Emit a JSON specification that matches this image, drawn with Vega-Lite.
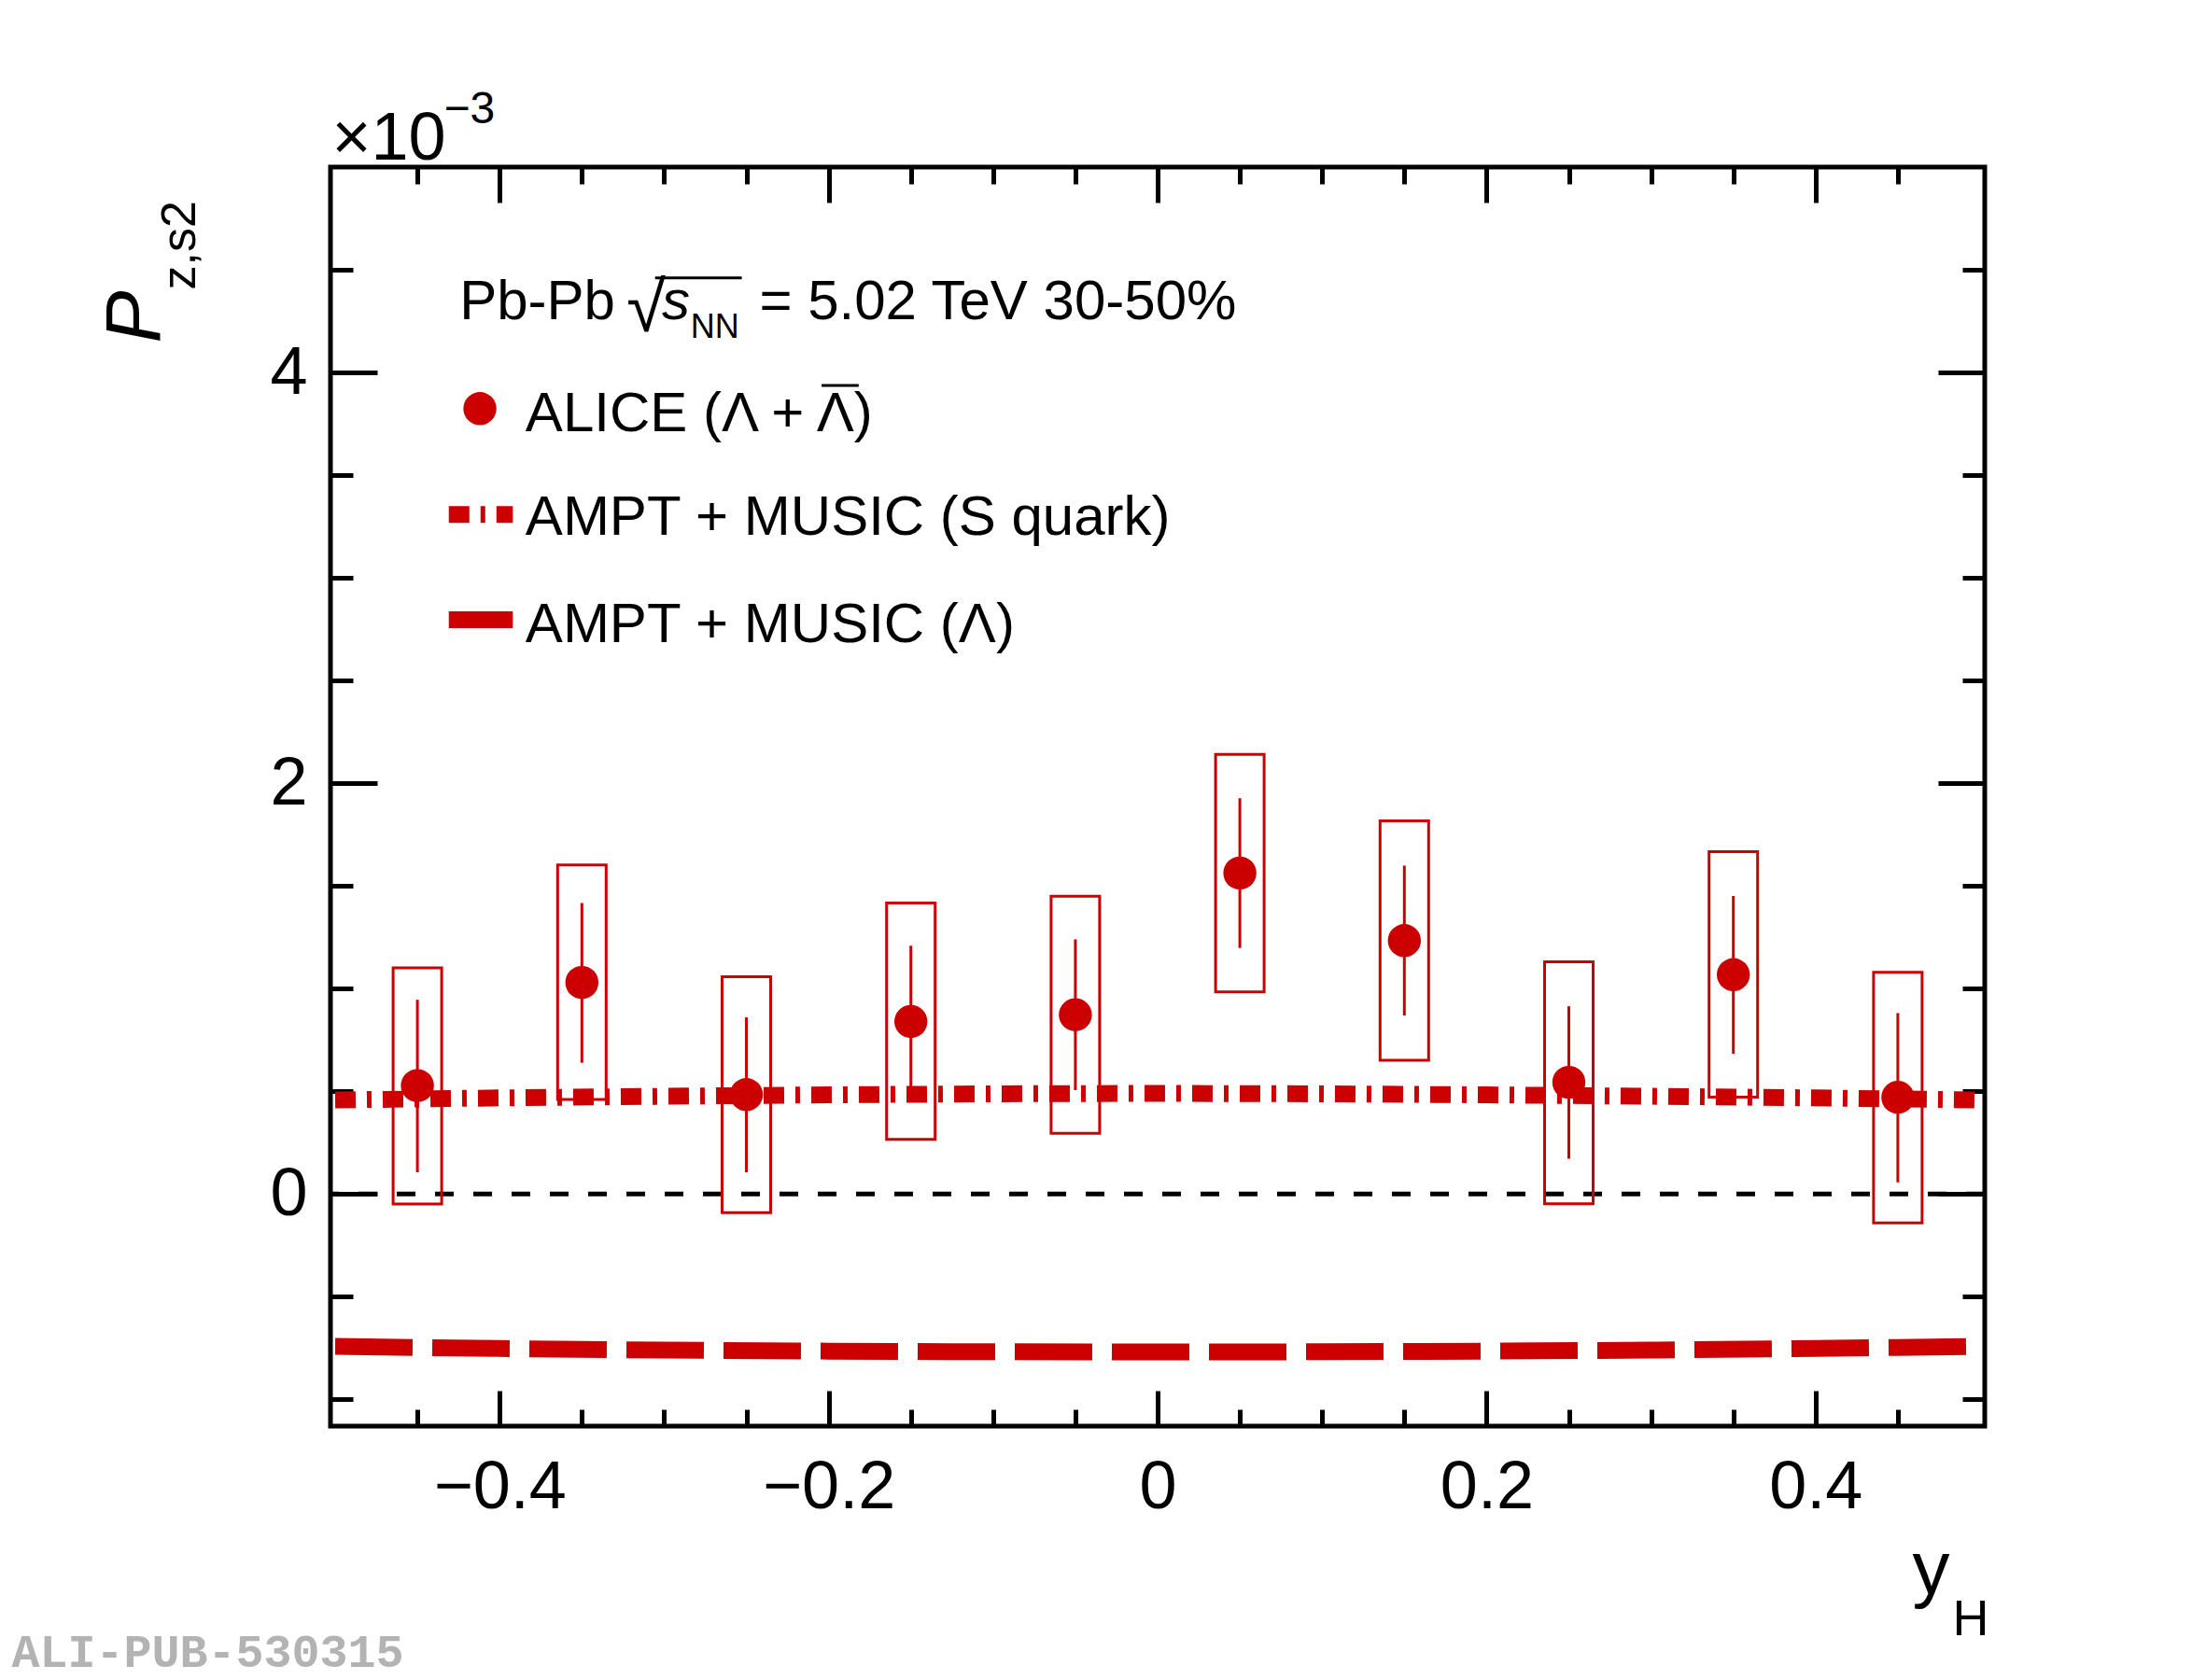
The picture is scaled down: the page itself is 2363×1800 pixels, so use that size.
{
  "$schema": "https://vega.github.io/schema/vega-lite/v6.json",
  "description": "ALICE P_z,s2 vs y_H in Pb-Pb 30-50%, with AMPT+MUSIC curves.",
  "width": 1772,
  "height": 1349,
  "autosize": {"type": "none"},
  "padding": {"left": 354, "top": 179, "right": 237, "bottom": 272},
  "background": "white",
  "config": {
    "view": {"stroke": "black", "strokeWidth": 5},
    "axis": {
      "domain": false, "grid": false, "tickColor": "black", "tickWidth": 5,
      "labelFont": "Liberation Sans", "labelFontSize": 72, "labelColor": "black",
      "titleFont": "Liberation Sans", "titleColor": "black", "titleFontWeight": "normal",
      "titleAlign": "left", "titleBaseline": "alphabetic"
    },
    "text": {"font": "Liberation Sans", "color": "black", "align": "left", "baseline": "alphabetic"}
  },
  "datasets": {
    "alice": [
      {"yH": -0.45, "P": 0.528, "statLo": 0.106, "statHi": 0.946, "sysLo": -0.049, "sysHi": 1.101},
      {"yH": -0.35, "P": 1.030, "statLo": 0.639, "statHi": 1.417, "sysLo": 0.460, "sysHi": 1.602},
      {"yH": -0.25, "P": 0.484, "statLo": 0.106, "statHi": 0.860, "sysLo": -0.091, "sysHi": 1.058},
      {"yH": -0.15, "P": 0.840, "statLo": 0.468, "statHi": 1.209, "sysLo": 0.266, "sysHi": 1.417},
      {"yH": -0.05, "P": 0.873, "statLo": 0.506, "statHi": 1.240, "sysLo": 0.296, "sysHi": 1.450},
      {"yH": 0.05, "P": 1.563, "statLo": 1.198, "statHi": 1.927, "sysLo": 0.984, "sysHi": 2.141},
      {"yH": 0.15, "P": 1.234, "statLo": 0.869, "statHi": 1.599, "sysLo": 0.651, "sysHi": 1.817},
      {"yH": 0.25, "P": 0.544, "statLo": 0.172, "statHi": 0.914, "sysLo": -0.047, "sysHi": 1.131},
      {"yH": 0.35, "P": 1.068, "statLo": 0.683, "statHi": 1.451, "sysLo": 0.472, "sysHi": 1.667},
      {"yH": 0.45, "P": 0.471, "statLo": 0.057, "statHi": 0.881, "sysLo": -0.141, "sysHi": 1.080}
    ],
    "squark": [
      {"yH": -0.5, "P": 0.458}, {"yH": -0.4, "P": 0.468}, {"yH": -0.3, "P": 0.476},
      {"yH": -0.2, "P": 0.483}, {"yH": -0.1, "P": 0.488}, {"yH": 0.0, "P": 0.490},
      {"yH": 0.1, "P": 0.488}, {"yH": 0.2, "P": 0.483}, {"yH": 0.3, "P": 0.476},
      {"yH": 0.4, "P": 0.468}, {"yH": 0.5, "P": 0.458}
    ],
    "lambda": [
      {"yH": -0.5, "P": -0.742}, {"yH": -0.4, "P": -0.752}, {"yH": -0.3, "P": -0.760},
      {"yH": -0.2, "P": -0.765}, {"yH": -0.1, "P": -0.768}, {"yH": 0.0, "P": -0.769},
      {"yH": 0.1, "P": -0.768}, {"yH": 0.2, "P": -0.765}, {"yH": 0.3, "P": -0.760},
      {"yH": 0.4, "P": -0.752}, {"yH": 0.5, "P": -0.742}
    ],
    "labels": [
      {"x": -0.4244, "y": 4.259, "t": "Pb-Pb"},
      {"x": -0.2421, "y": 4.259, "t": "= 5.02 TeV 30-50%"},
      {"x": -0.3843, "y": 3.715, "t": "ALICE (Λ + Λ)"},
      {"x": -0.3843, "y": 3.209, "t": "AMPT + MUSIC (S quark)"},
      {"x": -0.3843, "y": 2.688, "t": "AMPT + MUSIC (Λ)"}
    ],
    "bars": [
      {"x": -0.3055, "x2": -0.2528, "y": 4.46},
      {"x": -0.2043, "x2": -0.1817, "y": 3.937}
    ]
  },
  "layer": [
    {
      "data": {"values": [{"y": 0}]},
      "mark": {"type": "rule", "color": "black", "strokeWidth": 5, "strokeDash": [20, 21]},
      "encoding": {
        "y": {"field": "y", "type": "quantitative", "axis": null, "scale": {"domain": [-1.13, 5], "nice": false, "zero": false}}
      }
    },
    {
      "data": {"name": "squark"},
      "mark": {"type": "line", "color": "#cc0000", "strokeWidth": 18, "strokeDash": [22, 12, 5, 12], "strokeCap": "butt"},
      "encoding": {
        "x": {"field": "yH", "type": "quantitative", "scale": {"domain": [-0.5, 0.5], "nice": false, "zero": false},
          "axis": {"orient": "bottom", "values": [-0.4, -0.2, 0, 0.2, 0.4], "tickSize": -38, "labelPadding": 68,
            "labelFlush": false, "labelOverlap": false,
            "labelExpr": "datum.value == 0 ? '0' : format(datum.value, '.1f')",
            "title": "y", "titleFontSize": 80, "titleX": 1694, "titleY": 178}},
        "y": {"field": "P", "type": "quantitative", "scale": {"domain": [-1.13, 5], "nice": false, "zero": false},
          "axis": {"orient": "left", "values": [0, 2, 4], "tickSize": -50, "labelPadding": 75, "format": "d",
            "title": "P", "titleFontSize": 84, "titleFontStyle": "italic",
            "titleX": -184, "titleY": 188}}
      }
    },
    {
      "data": {"name": "lambda"},
      "mark": {"type": "line", "color": "#cc0000", "strokeWidth": 18, "strokeDash": [83, 21], "strokeCap": "butt"},
      "encoding": {
        "x": {"field": "yH", "type": "quantitative", "scale": {"domain": [-0.5, 0.5], "nice": false, "zero": false},
          "axis": {"orient": "bottom", "values": [-0.45, -0.35, -0.3, -0.25, -0.15, -0.1, -0.05, 0.05, 0.1, 0.15, 0.25, 0.3, 0.35, 0.45],
            "tickSize": -18, "labels": false,
            "title": "H", "titleFontSize": 54, "titleX": 1737, "titleY": 223}},
        "y": {"field": "P", "type": "quantitative", "scale": {"domain": [-1.13, 5], "nice": false, "zero": false},
          "axis": {"orient": "left", "values": [-1, -0.5, 0.5, 1, 1.5, 2.5, 3, 3.5, 4.5], "tickSize": -24, "labels": false,
            "title": "z,s2", "titleFontSize": 52, "titleX": -146, "titleY": 131}}
      }
    },
    {
      "data": {"name": "alice"},
      "mark": {"type": "bar", "width": 52, "filled": false, "color": "#cc0000", "strokeWidth": 3},
      "encoding": {
        "x": {"field": "yH", "type": "quantitative", "scale": {"domain": [-0.5, 0.5], "nice": false, "zero": false},
          "axis": {"orient": "top", "values": [-0.4, -0.2, 0, 0.2, 0.4], "tickSize": -38, "labels": false,
            "title": "×10", "titleFontSize": 72, "titleX": 1, "titleY": -9}},
        "y": {"field": "sysLo", "type": "quantitative", "scale": {"domain": [-1.13, 5], "nice": false, "zero": false},
          "axis": {"orient": "right", "values": [0, 2, 4], "tickSize": -50, "labels": false, "title": null}},
        "y2": {"field": "sysHi"}
      }
    },
    {
      "data": {"name": "alice"},
      "mark": {"type": "rule", "color": "#cc0000", "strokeWidth": 3},
      "encoding": {
        "x": {"field": "yH", "type": "quantitative", "scale": {"domain": [-0.5, 0.5], "nice": false, "zero": false},
          "axis": {"orient": "top", "values": [-0.45, -0.35, -0.3, -0.25, -0.15, -0.1, -0.05, 0.05, 0.1, 0.15, 0.25, 0.3, 0.35, 0.45],
            "tickSize": -18, "labels": false,
            "title": "−3", "titleFontSize": 48, "titleX": 121, "titleY": -48}},
        "y": {"field": "statLo", "type": "quantitative", "scale": {"domain": [-1.13, 5], "nice": false, "zero": false},
          "axis": {"orient": "right", "values": [-1, -0.5, 0.5, 1, 1.5, 2.5, 3, 3.5, 4.5], "tickSize": -24, "labels": false,
            "title": "ALI-PUB-530315", "titleFont": "Liberation Mono", "titleFontWeight": "bold", "titleFontSize": 50,
            "titleColor": "#b3b3b3", "titleAngle": 0, "titleX": -2114, "titleY": 1606}},
        "y2": {"field": "statHi"}
      }
    },
    {
      "data": {"name": "alice"},
      "mark": {"type": "point", "filled": true, "shape": "circle", "size": 1257, "color": "#cc0000", "opacity": 1},
      "encoding": {
        "x": {"field": "yH", "type": "quantitative", "axis": null},
        "y": {"field": "P", "type": "quantitative", "axis": null}
      }
    },
    {
      "data": {"values": [{"x": -0.412, "y": 3.824}]},
      "mark": {"type": "point", "filled": true, "shape": "circle", "size": 1257, "color": "#cc0000", "opacity": 1},
      "encoding": {
        "x": {"field": "x", "type": "quantitative", "axis": null},
        "y": {"field": "y", "type": "quantitative", "axis": null}
      }
    },
    {
      "data": {"values": [{"x": -0.4309, "x2": -0.392, "y": 3.309}]},
      "mark": {"type": "rule", "color": "#cc0000", "strokeWidth": 18, "strokeDash": [22, 12, 5, 12], "strokeCap": "butt"},
      "encoding": {
        "x": {"field": "x", "type": "quantitative", "axis": null},
        "x2": {"field": "x2"},
        "y": {"field": "y", "type": "quantitative", "axis": null}
      }
    },
    {
      "data": {"values": [{"x": -0.4309, "x2": -0.392, "y": 2.796}]},
      "mark": {"type": "rule", "color": "#cc0000", "strokeWidth": 18, "strokeCap": "butt"},
      "encoding": {
        "x": {"field": "x", "type": "quantitative", "axis": null},
        "x2": {"field": "x2"},
        "y": {"field": "y", "type": "quantitative", "axis": null}
      }
    },
    {
      "data": {"name": "bars"},
      "mark": {"type": "rule", "color": "black", "strokeWidth": 3},
      "encoding": {
        "x": {"field": "x", "type": "quantitative", "axis": null},
        "x2": {"field": "x2"},
        "y": {"field": "y", "type": "quantitative", "axis": null}
      }
    },
    {
      "data": {"name": "labels"},
      "mark": {"type": "text", "fontSize": 60},
      "encoding": {
        "x": {"field": "x", "type": "quantitative", "axis": null},
        "y": {"field": "y", "type": "quantitative", "axis": null},
        "text": {"field": "t"}
      }
    },
    {
      "data": {"values": [{"x": -0.3228, "y": 4.2, "t": "√"}]},
      "mark": {"type": "text", "fontSize": 76},
      "encoding": {
        "x": {"field": "x", "type": "quantitative", "axis": null},
        "y": {"field": "y", "type": "quantitative", "axis": null},
        "text": {"field": "t"}
      }
    },
    {
      "data": {"values": [{"x": -0.3014, "y": 4.259, "t": "s"}]},
      "mark": {"type": "text", "fontSize": 60, "fontStyle": "italic"},
      "encoding": {
        "x": {"field": "x", "type": "quantitative", "axis": null},
        "y": {"field": "y", "type": "quantitative", "axis": null},
        "text": {"field": "t"}
      }
    },
    {
      "data": {"values": [{"x": -0.2839, "y": 4.17, "t": "NN"}]},
      "mark": {"type": "text", "fontSize": 36},
      "encoding": {
        "x": {"field": "x", "type": "quantitative", "axis": null},
        "y": {"field": "y", "type": "quantitative", "axis": null},
        "text": {"field": "t"}
      }
    }
  ],
  "resolve": {"axis": {"x": "independent", "y": "independent"}}
}
